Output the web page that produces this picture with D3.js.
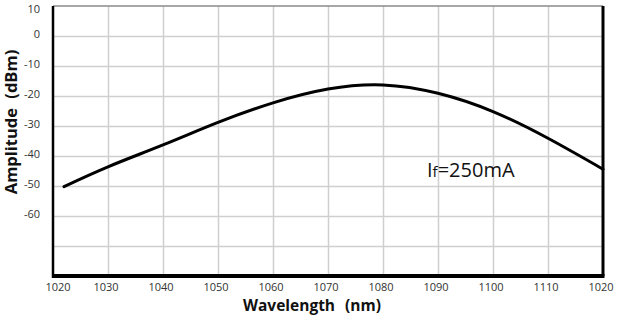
<!DOCTYPE html>
<html><head><meta charset="utf-8">
<script src="https://cdn.jsdelivr.net/npm/d3@7/dist/d3.min.js"></script>
<style>
body{margin:0;background:#fff;}
svg{display:block;}
text{font-family:"Open Sans","Noto Sans",sans-serif;}
</style></head>
<body><svg id="c" width="633" height="328"></svg>
<script>
const wavelengths = [1022,1030,1040,1050,1060,1070,1080,1090,1100,1110,1120];
const amplitudes  = [-50.2,-43.6,-36.3,-28.8,-22.3,-17.7,-16.3,-19.1,-25.2,-34.1,-44.4];
const xTickValues = [1020,1030,1040,1050,1060,1070,1080,1090,1100,1110,1120];
const xTickLabels = ["1020","1030","1040","1050","1060","1070","1080","1090","1100","1110","1020"];
const yGridValues = [10,0,-10,-20,-30,-40,-50,-60,-70];
const yTickLabels = [10,0,-10,-20,-30,-40,-50,-60];
const annotation = {main:"I", sub:"f", rest:"=250mA", wl:1088, amp:-47};

const svg = d3.select("#c");
const L=53, R=603, T=6, B=276;
const x = d3.scaleLinear().domain([1020,1120]).range([L,R]);
const y = d3.scaleLinear().domain([-80,10]).range([B,T]);

// grid
const grid = svg.append("g");
grid.selectAll("line.v").data(xTickValues.slice(1,-1)).join("line").attr("class","v")
  .attr("x1",d=>Math.round(x(d))+0.5).attr("x2",d=>Math.round(x(d))+0.5).attr("y1",T).attr("y2",B)
  .attr("stroke","#cfcfcf").attr("stroke-width",1.5);
grid.selectAll("line.h").data(yGridValues.slice(1)).join("line").attr("class","h")
  .attr("x1",L).attr("x2",R).attr("y1",d=>Math.round(y(d))+0.5).attr("y2",d=>Math.round(y(d))+0.5)
  .attr("stroke","#cfcfcf").attr("stroke-width",1.5);

// borders
svg.append("line").attr("x1",L).attr("x2",R).attr("y1",y(10)).attr("y2",y(10)).attr("stroke","#8a8a8a").attr("stroke-width",1.5);
svg.append("line").attr("x1",R).attr("x2",R).attr("y1",T).attr("y2",B).attr("stroke","#000").attr("stroke-width",3);
svg.append("line").attr("x1",L).attr("x2",L).attr("y1",T).attr("y2",B+2).attr("stroke","#000").attr("stroke-width",2.5);
svg.append("line").attr("x1",L-1).attr("x2",R+1.5).attr("y1",B).attr("y2",B).attr("stroke","#000").attr("stroke-width",4);

// x tick labels
svg.append("g").selectAll("text").data(xTickValues).join("text")
  .attr("x",(d,i)=>x(d)+(i===0?5:-2)).attr("y",291)
  .attr("text-anchor","middle").attr("font-size",11).attr("fill","#333")
  .text((d,i)=>xTickLabels[i]);

// y tick labels
svg.append("g").selectAll("text").data(yTickLabels).join("text")
  .attr("x",40).attr("y",d=>Math.max(9,y(d)-2)).attr("dy","0.35em")
  .attr("text-anchor","end").attr("font-size",11).attr("fill","#333")
  .text(d=>d);

// curve
const line = d3.line().x((d,i)=>x(wavelengths[i])).y(d=>y(d)).curve(d3.curveNatural);
svg.append("path").datum(amplitudes).attr("d",line)
  .attr("fill","none").attr("stroke","#000").attr("stroke-width",3).attr("stroke-linecap","round");

// annotation
const ann = svg.append("text").attr("x",x(annotation.wl)).attr("y",y(annotation.amp))
  .attr("font-size",20).attr("fill","#111");
ann.append("tspan").text(annotation.main);
ann.append("tspan").attr("font-size",15).text(annotation.sub);
ann.append("tspan").text(annotation.rest);

// axis titles
svg.append("text").attr("x",312).attr("y",311).attr("text-anchor","middle")
  .attr("font-size",15.5).attr("font-weight","bold").attr("fill","#111")
  .attr("word-spacing","6px").text("Wavelength (nm)");
svg.append("text").attr("transform","translate(17,122) rotate(-90)").attr("text-anchor","middle")
  .attr("font-size",16.5).attr("font-weight","bold").attr("fill","#111")
  .attr("word-spacing","5px").text("Amplitude (dBm)");
</script></body></html>
